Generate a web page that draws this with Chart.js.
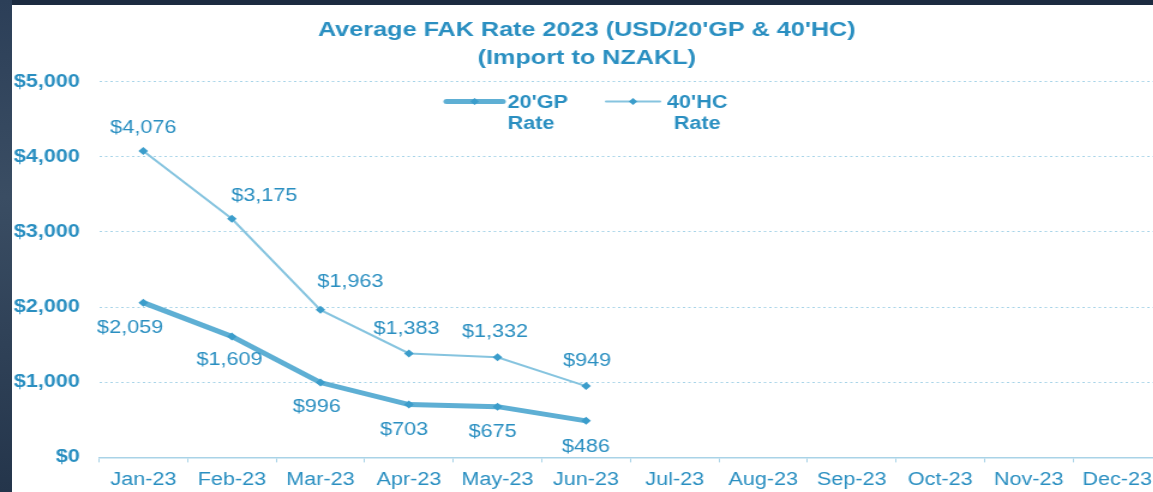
<!DOCTYPE html>
<html>
<head>
<meta charset="utf-8">
<script src="https://cdn.jsdelivr.net/npm/chart.js@4/dist/chart.umd.min.js"></script>
<style>
    html, body {
        margin: 0;
        padding: 0;
        width: 1153px;
        height: 492px;
        overflow: hidden;
        background: #1c2b40;
    }
    .strip {
        position: absolute;
        left: 0;
        top: 0;
        width: 12px;
        height: 492px;
        background: linear-gradient(#2c3f58, #3a4d63 40%, #24354b);
    }
    .panel {
        position: absolute;
        left: 12px;
        top: 5px;
        width: 1141px;
        height: 487px;
        background: #ffffff;
        overflow: hidden;
    }
    .stretch {
        width: 962px;
        height: 495px;
        transform: scaleX(1.2);
        transform-origin: 0 0;
    }
</style>
</head>
<body>
<div class="strip"></div>
<div class="panel">
    <div class="stretch">
        <canvas id="fak-chart"></canvas>
    </div>
</div>
<script>
// Data
const months = ['Jan-23', 'Feb-23', 'Mar-23', 'Apr-23', 'May-23', 'Jun-23',
                'Jul-23', 'Aug-23', 'Sep-23', 'Oct-23', 'Nov-23', 'Dec-23'];
const rate20GP = [2059, 1609, 996, 703, 675, 486, null, null, null, null, null, null];
const rate40HC = [4076, 3175, 1963, 1383, 1332, 949, null, null, null, null, null, null];
const yTicks = [0, 1000, 2000, 3000, 4000, 5000];

const textBlue = '#2a8fc1';
const gpColor = '#5eafd4';
const hcColor = '#86c4df';
const markColor = '#3b9dcb';
const font = 'Arial, "Liberation Sans", sans-serif';

// label nudges relative to each point (dx, dy), in chart units
const gpLabelShift = [[-11, 25], [-2, 24], [-3, 24], [-4, 25], [-4, 25], [0, 26]];
const hcLabelShift = [[0, -23], [27, -23], [25, -28], [-2, -24], [-2, -25], [1, -25]];

function money(v) {
    return '$' + v.toLocaleString('en-US');
}

// Values above / below each point
const valueLabels = {
    id: 'valueLabels',
    afterDatasetsDraw(chart) {
        const ctx = chart.ctx;
        ctx.save();
        ctx.font = '18px ' + font;
        ctx.fillStyle = textBlue;
        ctx.textAlign = 'center';
        ctx.textBaseline = 'middle';
        [gpLabelShift, hcLabelShift].forEach(function(shifts, di) {
            const meta = chart.getDatasetMeta(di);
            const values = chart.data.datasets[di].data;
            meta.data.forEach(function(pt, i) {
                if (values[i] == null) return;
                const s = shifts[i] || [0, 0];
                ctx.fillText(money(values[i]), pt.x + s[0], pt.y + s[1]);
            });
        });
        ctx.restore();
    }
};

// Two-line legend sitting inside the plot
const wrapLegend = {
    id: 'wrapLegend',
    afterDraw(chart) {
        const ctx = chart.ctx;
        const top = chart.chartArea.top;
        const entries = [
            { ds: 0, x0: 362, x1: 409, tx: 413, align: 'left', width: 5, name: "20'GP" },
            { ds: 1, x0: 495, x1: 540, tx: 571, align: 'center', width: 2, name: "40'HC" }
        ];
        ctx.save();
        entries.forEach(function(e) {
            const ds = chart.data.datasets[e.ds];
            const y = top + 20;
            ctx.strokeStyle = ds.borderColor;
            ctx.lineWidth = e.width;
            ctx.lineCap = 'round';
            ctx.beginPath();
            ctx.moveTo(e.x0, y);
            ctx.lineTo(e.x1, y);
            ctx.stroke();
            const mx = (e.x0 + e.x1) / 2;
            ctx.fillStyle = markColor;
            ctx.beginPath();
            ctx.moveTo(mx, y - 3.5);
            ctx.lineTo(mx + 3.5, y);
            ctx.lineTo(mx, y + 3.5);
            ctx.lineTo(mx - 3.5, y);
            ctx.closePath();
            ctx.fill();
            ctx.font = 'bold 18px ' + font;
            ctx.fillStyle = textBlue;
            ctx.textAlign = e.align;
            ctx.textBaseline = 'middle';
            ctx.fillText(e.name, e.tx, y + 1);
            ctx.fillText('Rate', e.tx, y + 22);
        });
        ctx.restore();
    }
};

function initializeChart() {
    const canvas = document.getElementById('fak-chart');
    new Chart(canvas, {
        type: 'line',
        data: {
            labels: months,
            datasets: [{
                label: "20'GP Rate",
                data: rate20GP,
                borderColor: gpColor,
                borderWidth: 5,
                pointStyle: 'rectRot',
                pointRadius: 4,
                pointBackgroundColor: markColor,
                pointBorderColor: markColor,
                pointBorderWidth: 0,
                tension: 0
            }, {
                label: "40'HC Rate",
                data: rate40HC,
                borderColor: hcColor,
                borderWidth: 2,
                pointStyle: 'rectRot',
                pointRadius: 4,
                pointBackgroundColor: markColor,
                pointBorderColor: markColor,
                pointBorderWidth: 0,
                tension: 0
            }]
        },
        options: {
            responsive: true,
            maintainAspectRatio: false,
            animation: false,
            layout: {
                padding: { left: 0, right: 4, top: 0, bottom: 2 }
            },
            plugins: {
                legend: { display: false },
                tooltip: { enabled: false },
                title: {
                    display: true,
                    text: ["Average FAK Rate 2023 (USD/20'GP & 40'HC)", '(Import to NZAKL)'],
                    color: textBlue,
                    font: { family: font, size: 21, weight: 'bold', lineHeight: 1.3 },
                    padding: { top: 12, bottom: 10 }
                }
            },
            scales: {
                x: {
                    offset: true,
                    grid: {
                        display: true,
                        drawOnChartArea: false,
                        drawTicks: true,
                        tickLength: 5,
                        offset: true,
                        color: '#a9d3e7'
                    },
                    border: { display: true, color: '#a9d3e7', width: 1.5 },
                    ticks: {
                        color: textBlue,
                        padding: 7,
                        maxRotation: 0,
                        autoSkip: false,
                        font: { family: font, size: 18 }
                    }
                },
                y: {
                    min: 0,
                    max: 5000,
                    afterFit: function(scale) { scale.width = 72.5; },
                    afterBuildTicks: function(scale) {
                        scale.ticks = yTicks.map(function(v) { return { value: v }; });
                    },
                    grid: {
                        drawTicks: false,
                        color: '#a8d4e8',
                        lineWidth: 1
                    },
                    border: { display: false, dash: [2, 2.5] },
                    ticks: {
                        color: textBlue,
                        padding: 16,
                        font: { family: font, size: 18, weight: 'bold' },
                        callback: function(v) { return money(v); }
                    }
                }
            }
        },
        plugins: [valueLabels, wrapLegend]
    });
}

document.addEventListener('DOMContentLoaded', initializeChart);
</script>
</body>
</html>
